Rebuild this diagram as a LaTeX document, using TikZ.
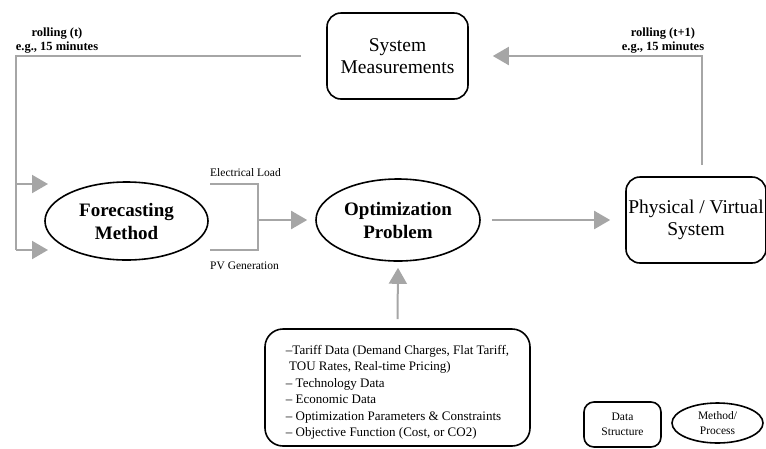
\documentclass[tikz,border=0pt]{standalone}
\usepackage{fontspec}
\setmainfont{Liberation Serif}
\usetikzlibrary{arrows.meta,shapes.geometric}
\definecolor{flowgray}{HTML}{A6A6A6}
\tikzset{
  every picture/.style={line join=miter},
  % boxes hold data, ellipses hold methods
  datanode/.style={draw, line width=1.6pt, rounded corners=14pt, align=center,
    inner sep=0pt, font=\fontsize{19.5}{22}\selectfont},
  methodnode/.style={draw, ellipse, line width=1.6pt, align=center, inner sep=0pt,
    font=\fontsize{19}{23}\selectfont\bfseries},
  loopline/.style={draw=flowgray, line width=2pt},
  feed/.style={loopline, -{Triangle[length=16pt,width=18pt,fill=flowgray]}},
  tag/.style={font=\fontsize{11.5}{13}\selectfont, inner sep=0pt},
  rolltag/.style={font=\fontsize{12.5}{14}\selectfont\bfseries, align=center, inner sep=0pt},
}
\begin{document}
\begin{tikzpicture}[x=1pt, y=-1pt]
    \useasboundingbox (0,0) rectangle (766,448);

    % Main blocks
    \node[datanode, minimum width=141, minimum height=86] (meas) at (397.5,56) {System\\Measurements};
    \node[methodnode, minimum width=163, minimum height=78] (fore) at (126.5,221) {Forecasting\\Method};
    \node[methodnode, minimum width=164, minimum height=82] (opt) at (398,220) {Optimization\\Problem};
    \node[datanode, minimum width=140, minimum height=86] (phys) at (696,220) {Physical / Virtual\\System};
    \node[datanode, minimum width=265, minimum height=117, rounded corners=18pt, align=left,
          font=\fontsize{13}{16.5}\selectfont] (data) at (397.5,387.5)
          {\rule{0pt}{19pt}--Tariff Data (Demand Charges, Flat Tariff,\\
           \hspace{0.25em}TOU Rates, Real-time Pricing)\\
           -- Technology Data\\
           -- Economic Data\\
           -- Optimization Parameters \& Constraints\\
           -- Objective Function (Cost, or CO2)};

    % Legend
    \node[datanode, minimum width=77, minimum height=45, rounded corners=10pt,
          font=\fontsize{11.5}{15}\selectfont] (legdata) at (622.5,424.5) {Data\\Structure};
    \node[methodnode, minimum width=91, minimum height=40,
          font=\fontsize{11.5}{15}\selectfont] (legmeth) at (717.5,423) {Method/\\Process};

    % Rolling labels
    \node[rolltag] (rollL) at (57,41) {rolling (t)\\e.g., 15 minutes};
    \node[rolltag] (rollR) at (663,41) {rolling (t+1)\\e.g., 15 minutes};

    % Forecast outputs
    \node[tag, anchor=west] (loadtag) at (210,173) {Electrical Load};
    \node[tag, anchor=west] (pvtag) at (210,266) {PV Generation};

    % Free ends of connectors
    \coordinate (tl) at (16,56);
    \coordinate (bl) at (16,250);
    \coordinate (inA) at (48,184);
    \coordinate (inB) at (48,250);
    \coordinate (eload) at (210,184);
    \coordinate (pvgen) at (210,250);
    \coordinate (join) at (258,220);
    \coordinate (physout) at (702,165);
    \coordinate (tr) at (702,56);

    % Measurements feed the forecast (t)
    \draw[loopline] ([xshift=-25pt]meas.west) -- (tl) -- (bl);
    \draw[feed] (tl |- inA) -- (inA);
    \draw[feed] (bl) -- (inB);

    % Forecasts into optimization
    \draw[loopline] (eload) -- (eload -| join) -- (pvgen -| join) -- (pvgen);
    \draw[feed] (join) -- ([xshift=-8pt]opt.west);

    % Optimization to system
    \draw[feed] ([xshift=11pt]opt.east) -- ([xshift=-15pt]phys.west);

    % System back to measurements (t+1)
    \draw[feed] (physout) -- (tr) -- ([xshift=24pt]meas.east);

    % Input data
    \draw[feed] ([yshift=9pt]data.north) -- ([yshift=-6pt]opt.south);
\end{tikzpicture}
\end{document}
